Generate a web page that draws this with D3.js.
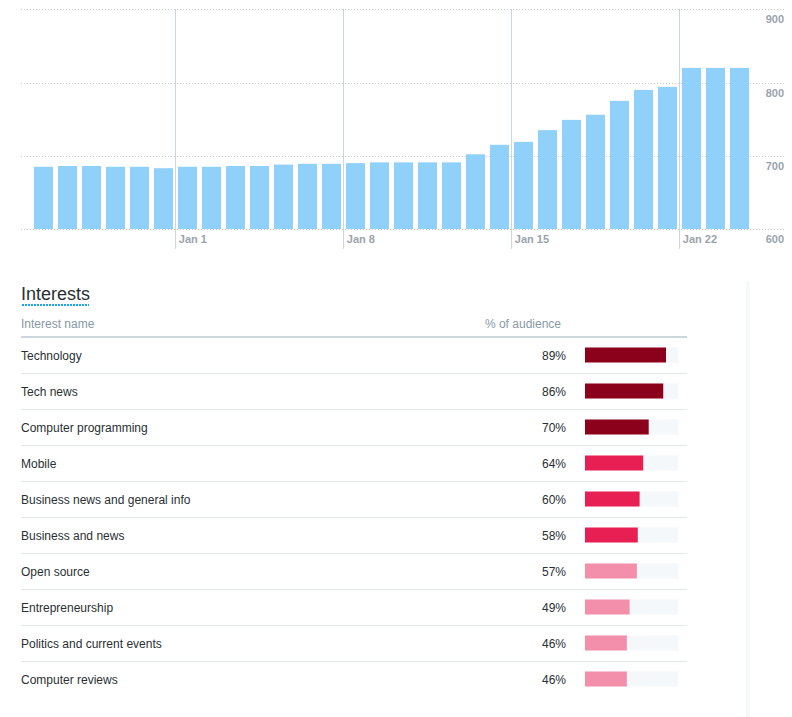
<!DOCTYPE html>
<html>
<head>
<meta charset="utf-8">
<script src="https://cdn.jsdelivr.net/npm/d3@7"></script>
<style>
  html, body { margin: 0; padding: 0; background: #fff; }
  svg { display: block; font-family: "Liberation Sans", Arial, sans-serif; }
</style>
</head>
<body>
<svg id="chart" width="792" height="717"></svg>
<script>
// ---- Data ----
const startDate = "2017-12-26";
const followers = [685,686,686,685,685,683,685,685,686,686,688,689,689,690,691,691,691,691,702,715,719,735,749,756,775,790,794,820,820,820];
const yTicks = [600, 700, 800, 900];
const xTickDates = ["2018-01-01", "2018-01-08", "2018-01-15", "2018-01-22"];
const xTickLabels = ["Jan 1", "Jan 8", "Jan 15", "Jan 22"];

const interestNames = ["Technology","Tech news","Computer programming","Mobile","Business news and general info","Business and news","Open source","Entrepreneurship","Politics and current events","Computer reviews"];
const interestPct = [89,86,70,64,60,58,57,49,46,46];

// ---- Setup ----
const svg = d3.select("#chart");
const parse = d3.utcParse("%Y-%m-%d");
const day0 = parse(startDate);
const dates = followers.map((_, i) => d3.utcDay.offset(day0, i));

const x = d3.scaleUtc()
  .domain([day0, d3.utcDay.offset(day0, followers.length)])
  .range([31.3, 31.3 + 24 * followers.length]);
const y = d3.scaleLinear().domain([600, 900]).range([229, 9.3]);

// Horizontal dotted gridlines
const g = svg.append("g");
g.selectAll("line.h").data(yTicks).join("line")
  .attr("x1", 21).attr("x2", 784)
  .attr("y1", d => Math.round(y(d)) + 0.5).attr("y2", d => Math.round(y(d)) + 0.5)
  .attr("stroke", "#c8c8c8").attr("stroke-width", 1).attr("stroke-dasharray", "1,2");

// Vertical lines for week ticks
const tickDates = xTickDates.map(parse);
g.selectAll("line.v").data(tickDates).join("line")
  .attr("x1", d => Math.round(x(d)) + 0.5).attr("x2", d => Math.round(x(d)) + 0.5)
  .attr("y1", 9).attr("y2", 249)
  .attr("stroke", "#ccd6dd").attr("stroke-width", 1);

// Bars
g.selectAll("rect.bar").data(followers).join("rect")
  .attr("x", (d, i) => x(dates[i]) + 2.7)
  .attr("width", 19)
  .attr("y", d => y(d))
  .attr("height", d => y(600) - y(d))
  .attr("fill", "#8fd1fa");

// X tick labels
g.selectAll("text.xl").data(tickDates).join("text")
  .attr("x", d => x(d) + 3.5)
  .attr("y", 243)
  .attr("font-size", 11).attr("font-weight", "bold")
  .attr("fill", "#9aa4ad")
  .text((d, i) => xTickLabels[i]);

// Y tick labels (right)
g.selectAll("text.yl").data(yTicks).join("text")
  .attr("x", 784).attr("y", d => y(d) + 14)
  .attr("text-anchor", "end")
  .attr("font-size", 11).attr("font-weight", "bold")
  .attr("fill", "#9aa4ad")
  .text(d => d);

// ---- Interests table ----
const t = svg.append("g");
t.append("text").attr("x", 21).attr("y", 299.5)
  .attr("font-size", 18).attr("fill", "#292f33").text("Interests");
t.append("line").attr("x1", 22).attr("x2", 89).attr("y1", 305).attr("y2", 305)
  .attr("stroke", "#1da1f2").attr("stroke-width", 2).attr("stroke-dasharray", "2,1");

t.append("text").attr("x", 21).attr("y", 327.5)
  .attr("font-size", 12).attr("fill", "#8899a6").text("Interest name");
t.append("text").attr("x", 561).attr("y", 327.5).attr("text-anchor", "end")
  .attr("font-size", 12).attr("fill", "#8899a6").text("% of audience");
t.append("line").attr("x1", 21).attr("x2", 687).attr("y1", 337).attr("y2", 337)
  .attr("stroke", "#ccd6dd").attr("stroke-width", 2);

const rowY = d3.scaleLinear().domain([0, 1]).range([355, 391]);
const barW = d3.scaleLinear().domain([0, 100]).range([0, 91]);
const color = d3.scaleThreshold().domain([58, 65]).range(["#f48fab", "#e81f53", "#8b001a"]);

const rows = t.selectAll("g.row").data(interestPct).join("g")
  .attr("transform", (d, i) => `translate(0,${rowY(i)})`);

rows.append("text").attr("x", 21).attr("y", 4.5)
  .attr("font-size", 12).attr("fill", "#292f33")
  .text((d, i) => interestNames[i]);
rows.append("text").attr("x", 566).attr("y", 4.5).attr("text-anchor", "end")
  .attr("font-size", 12).attr("fill", "#292f33")
  .text(d => d + "%");
rows.append("rect").attr("x", 585).attr("y", -7.5).attr("width", 93).attr("height", 15)
  .attr("fill", "#f5f8fa");
rows.append("rect").attr("x", 585).attr("y", -7.5).attr("width", d => barW(d)).attr("height", 15)
  .attr("fill", d => color(d));
rows.filter((d, i) => i < interestPct.length - 1)
  .append("line").attr("x1", 21).attr("x2", 687).attr("y1", 18.5).attr("y2", 18.5)
  .attr("stroke", "#e1e8ed").attr("stroke-width", 1);

// right side panel divider
svg.append("rect").attr("x", 746).attr("y", 282).attr("width", 3.5).attr("height", 435)
  .attr("fill", "#f5f8fa");
</script>
</body>
</html>
